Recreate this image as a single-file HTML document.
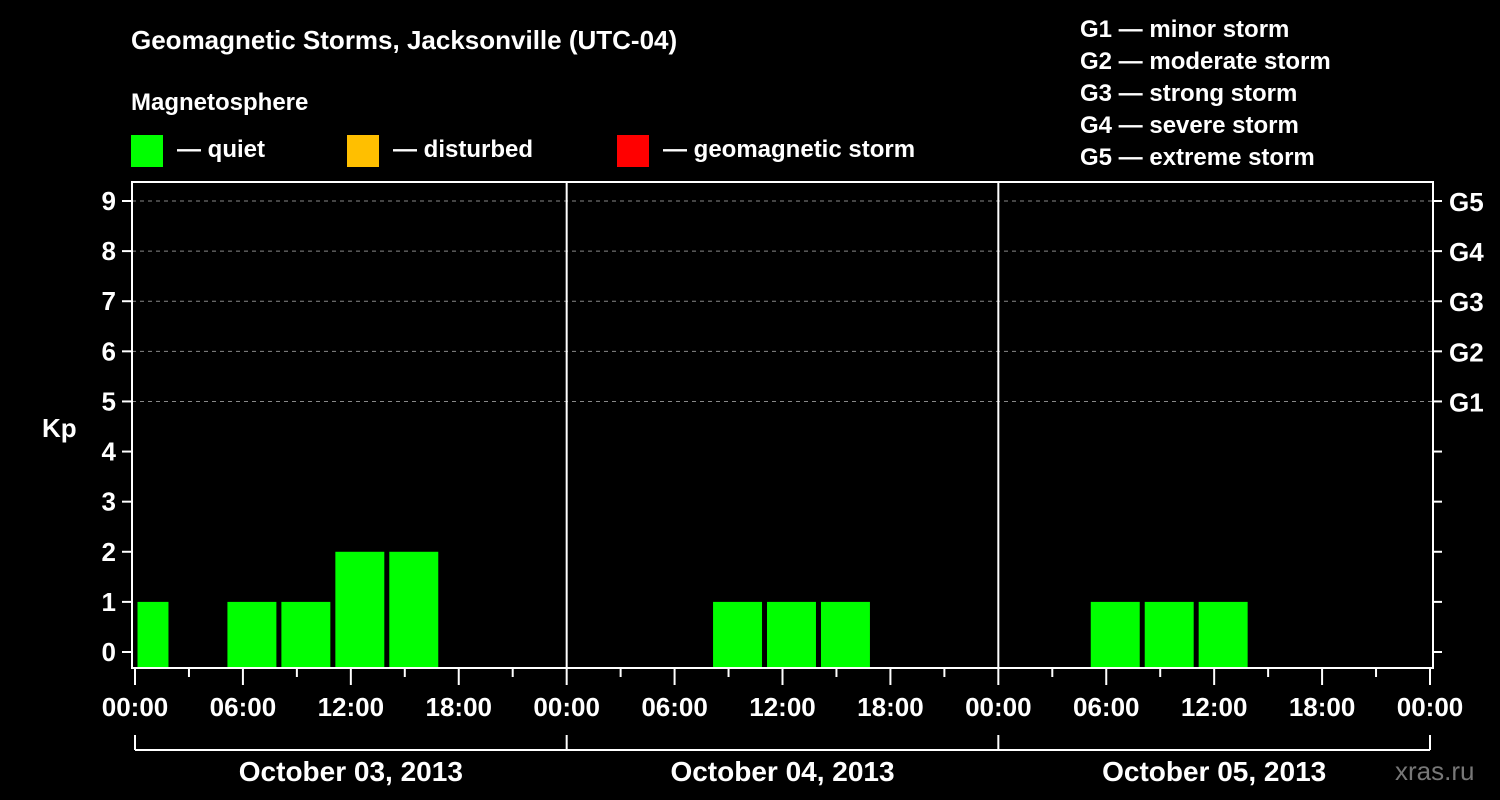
<!DOCTYPE html>
<html><head><meta charset="utf-8"><style>
body{margin:0;background:#000;}
svg{display:block;font-family:"Liberation Sans",Arial,sans-serif;font-weight:bold;}
</style></head><body>
<svg id="chart" width="1500" height="800" viewBox="0 0 1500 800">
<rect width="1500" height="800" fill="#000"/>
<text x="131" y="49" fill="#fff" font-size="26">Geomagnetic Storms, Jacksonville (UTC-04)</text>
<text x="131" y="110" fill="#fff" font-size="24">Magnetosphere</text>
<g><rect x="131" y="135" width="32" height="32" fill="#00ff00"/><text x="177" y="157" fill="#fff" font-size="24">— quiet</text></g>
<g><rect x="347" y="135" width="32" height="32" fill="#ffbf00"/><text x="393" y="157" fill="#fff" font-size="24">— disturbed</text></g>
<g><rect x="617" y="135" width="32" height="32" fill="#ff0000"/><text x="663" y="157" fill="#fff" font-size="24">— geomagnetic storm</text></g>
<g fill="#fff" font-size="24">
<text x="1080" y="37">G1 — minor storm</text><text x="1080" y="69">G2 — moderate storm</text><text x="1080" y="101">G3 — strong storm</text><text x="1080" y="133">G4 — severe storm</text><text x="1080" y="165">G5 — extreme storm</text>
</g>
<text x="42" y="437" fill="#fff" font-size="26">Kp</text>
<text x="1395" y="780" fill="#777" font-size="26" font-weight="normal">xras.ru</text>
<g id="plot"></g>
</svg>
<script>
const slotStarts=[-1,2,5,8,11,14,17,20,23,26,29,32,35,38,41,44,47,50,53,56,59,62,65,68,71];
const kpValues=[1,0,1,1,2,2,0,0,0,0,0,1,1,1,0,0,0,0,1,1,1,0,0,0,0];
const kpTicks=[0,1,2,3,4,5,6,7,8,9];
const gLabels=["G1","G2","G3","G4","G5"];
const timeLabels=["00:00","06:00","12:00","18:00"];
const dayLabels=["October 03, 2013","October 04, 2013","October 05, 2013"];
const NS="http://www.w3.org/2000/svg";
const g=document.getElementById('plot');
const X0=135,HPX=(1430-135)/72,Y0=652,YPX=(652-201)/9,BOT=668,TOP=182,L=132,R=1433;
const xs=h=>X0+h*HPX, ys=v=>Y0-v*YPX;
function el(t,a,p){const e=document.createElementNS(NS,t);for(const k in a)e.setAttribute(k,a[k]);(p||g).appendChild(e);return e;}
// grid
kpTicks.forEach(v=>{if(v>=5){const l=el('line',{x1:L,x2:R,y1:ys(v),y2:ys(v),stroke:'#888','stroke-dasharray':'4,4','stroke-width':1});

}});
// bars
slotStarts.forEach((s,i)=>{const v=kpValues[i];if(v<=0)return;
const a=Math.max(0,s),b=Math.min(72,s+3);
const c=v<4?'#00ff00':(v<5?'#ffbf00':'#ff0000');
const r=el('rect',{x:xs(a)+2.5,y:ys(v),width:xs(b)-xs(a)-5,height:BOT-ys(v),fill:c});

});
// day separators
[1,2].forEach(d=>{const l=el('line',{x1:xs(d*24),x2:xs(d*24),y1:TOP,y2:BOT,stroke:'#fff','stroke-width':2});

});
// frame
const f=el('rect',{x:L,y:TOP,width:R-L,height:BOT-TOP,fill:'none',stroke:'#fff','stroke-width':2});


// y ticks
kpTicks.forEach(v=>{const y=ys(v);
el('line',{x1:L-10,x2:L,y1:y,y2:y,stroke:'#fff','stroke-width':2});
el('line',{x1:R,x2:R+9,y1:y,y2:y,stroke:'#fff','stroke-width':2});
const t=el('text',{x:116,y:y+9,fill:'#fff','font-size':26,'text-anchor':'end'});t.textContent=v;

});
gLabels.forEach((s,i)=>{const t=el('text',{x:1449,y:ys(5+i)+10,fill:'#fff','font-size':26});t.textContent=s;

});
// x ticks
for(let h=0;h<=72;h+=3){const x=xs(h),maj=h%6==0;
el('line',{x1:x,x2:x,y1:BOT,y2:BOT+(maj?17:9),stroke:'#fff','stroke-width':2});
if(maj){const t=el('text',{x:x,y:716,fill:'#fff','font-size':26,'text-anchor':'middle'});t.textContent=timeLabels[(h/6)%4];

}}
// day brackets
el('line',{x1:xs(0),x2:xs(72),y1:750,y2:750,stroke:'#fff','stroke-width':2});
for(let d=0;d<=3;d++)el('line',{x1:xs(d*24),x2:xs(d*24),y1:735,y2:750,stroke:'#fff','stroke-width':2});
dayLabels.forEach((s,i)=>{const t=el('text',{x:xs(i*24+12),y:781,fill:'#fff','font-size':28,'text-anchor':'middle'});t.textContent=s;

});
</script>
</body></html>
